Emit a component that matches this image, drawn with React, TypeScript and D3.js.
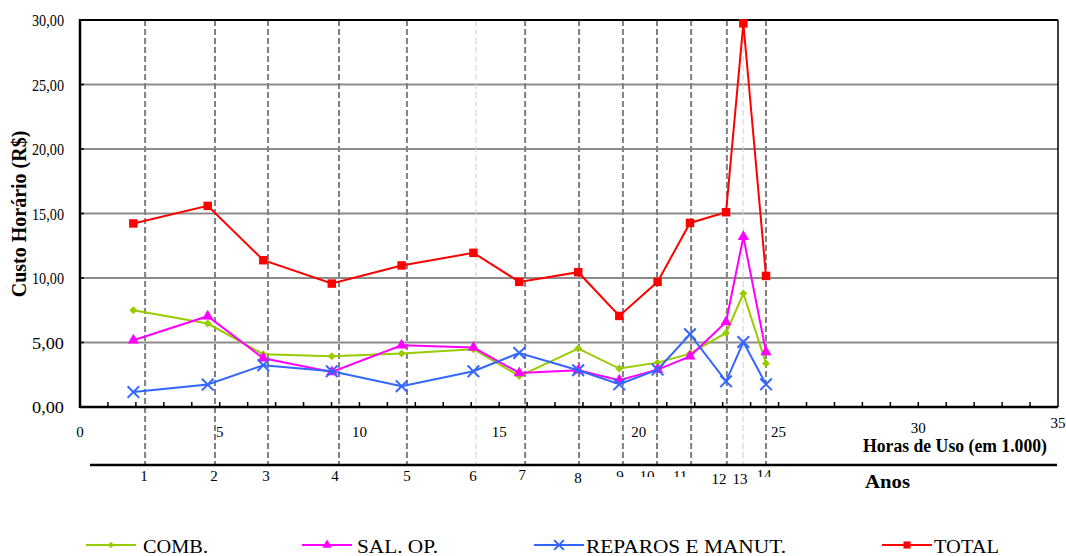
import * as d3 from 'd3';

// thousands of hours for each year's point
const hours = [1.91, 4.57, 6.56, 9.01, 11.51, 14.08, 15.72, 17.83, 19.3, 20.67, 21.83, 23.12, 23.74, 24.55];
const comb = [7.5, 6.47, 4.09, 3.93, 4.14, 4.48, 2.4, 4.53, 2.98, 3.44, 4.14, 5.74, 8.8, 3.37];
const salOp = [5.17, 7.04, 3.78, 2.72, 4.79, 4.61, 2.64, 2.85, 2.07, 2.9, 3.93, 6.59, 13.19, 4.27];
const reparos = [1.16, 1.74, 3.24, 2.77, 1.61, 2.77, 4.19, 2.85, 1.76, 2.9, 5.64, 1.99, 5.04, 1.76];
const total = [14.23, 15.59, 11.38, 9.57, 10.97, 11.95, 9.7, 10.45, 7.06, 9.7, 14.27, 15.1, 29.74, 10.16];

// year marks on the hours axis
const yearHours = [2.33, 4.83, 6.73, 9.27, 11.7, 14.17, 15.93, 17.86, 19.43, 20.65, 21.87, 23.15, 23.73, 24.55];
const yearLabels = ['1', '2', '3', '4', '5', '6', '7', '8', '9', '10', '11', '12', '13', '14'];
const yearLight = [false, false, false, false, false, true, false, false, false, false, false, false, true, false];
const yearLabelDx = [-1, -1, -2, -4, 0, -3, -3, -1, -3, -10, -11, -8, -3, -2];
const yearLabelDy = [0, 0, 0, 0, 0, 0, -1, 2, 0, 0, 0, 3, 3, -1];
const yearClipped = [false, false, false, false, false, false, false, false, true, true, true, false, false, true];

const xTicks = [0, 5, 10, 15, 20, 25, 30, 35];
const yTicks = [0, 5, 10, 15, 20, 25, 30];

const W = 1066;
const H = 556;
const left = 80;
const right = 1058;
const top = 20;
const bottom = 407;
const anosY = 465;

const x = d3.scaleLinear().domain([0, 35]).range([left, right]);
const y = d3.scaleLinear().domain([0, 30]).range([bottom, top]);

const fmt = (v: number) => v.toFixed(2).replace('.', ',');

const series = [
  { name: 'COMB.', values: comb, color: '#99CC00', symbol: d3.symbolDiamond2, size: 40, stroke: false, lx: 86, tx: 143, tw: 65 },
  { name: 'SAL. OP.', values: salOp, color: '#FF00FF', symbol: d3.symbolTriangle, size: 55, stroke: false, lx: 302, tx: 357, tw: 81 },
  { name: 'REPAROS E MANUT.', values: reparos, color: '#3366FF', symbol: d3.symbolTimes, size: 90, stroke: true, lx: 534, tx: 586, tw: 200 },
  { name: 'TOTAL', values: total, color: '#FF0000', symbol: d3.symbolSquare, size: 72, stroke: false, lx: 882, tx: 934, tw: 65 },
];

const serif = '"Liberation Serif", "Times New Roman", serif';

export default function App() {
  const line = d3
    .line<number>()
    .x((_, i) => x(hours[i]))
    .y((d) => y(d));

  const minor = d3.range(1, 35);

  return (
    <svg
      width={W}
      height={H}
      style={{ position: 'absolute', left: 0, top: 0, background: '#fff' }}
      fontFamily={serif}
    >
      <defs>
        <clipPath id="yearClip">
          <rect x={0} y={0} width={W} height={477} />
        </clipPath>
      </defs>

      {/* horizontal grid */}
      {yTicks.slice(1, -1).map((t) => (
        <line key={'g' + t} x1={left} x2={right} y1={y(t)} y2={y(t)} stroke="#8c8c8c" strokeWidth={2} />
      ))}

      {/* year dashed lines */}
      {yearHours.map((h, i) => (
        <line
          key={'yl' + i}
          x1={x(h)}
          x2={x(h)}
          y1={top}
          y2={anosY}
          stroke={yearLight[i] ? '#cfcfcf' : '#808080'}
          strokeWidth={yearLight[i] ? 1 : 2}
          strokeDasharray="6,3"
        />
      ))}

      {/* frame */}
      <line x1={left} x2={right} y1={top} y2={top} stroke="#000" strokeWidth={2} />
      <line x1={right} x2={right} y1={top} y2={bottom} stroke="#000" strokeWidth={1.5} />
      <line x1={left} x2={left} y1={top - 1} y2={bottom + 1} stroke="#000" strokeWidth={2.5} />
      <line x1={left} x2={right} y1={bottom} y2={bottom} stroke="#000" strokeWidth={2.5} />

      {/* ticks */}
      {minor.map((t) => (
        <line key={'xt' + t} x1={x(t)} x2={x(t)} y1={bottom} y2={bottom - 5} stroke="#000" strokeWidth={1.5} />
      ))}
      {yTicks.slice(1, -1).map((t) => (
        <line key={'yt' + t} x1={left} x2={left + 4} y1={y(t)} y2={y(t)} stroke="#000" strokeWidth={1.5} />
      ))}

      {/* y tick labels */}
      {yTicks.map((t) => (
        <text key={'yl' + t} x={64} y={y(t) + 6} textAnchor="end" fontSize={16} textLength={32} lengthAdjust="spacingAndGlyphs">
          {fmt(t)}
        </text>
      ))}

      {/* x tick labels */}
      {xTicks.map((t) => (
        <text
          key={'xl' + t}
          x={x(t)}
          y={t === 35 ? 428 : t === 30 ? 433 : 437}
          textAnchor="middle"
          fontSize={15}
        >
          {t}
        </text>
      ))}

      <text
        transform={`translate(26,${214}) rotate(-90)`}
        textAnchor="middle"
        fontSize={20}
        fontWeight="bold"
      >
        Custo Horário (R$)
      </text>

      <text x={863} y={452} fontSize={18} fontWeight="bold" textLength={184} lengthAdjust="spacingAndGlyphs">
        Horas de Uso (em 1.000)
      </text>

      {/* anos axis */}
      <line x1={90} x2={1057} y1={anosY} y2={anosY} stroke="#000" strokeWidth={2.5} />
      {yearLabels.map((lab, i) => (
        <text
          key={'ya' + i}
          x={x(yearHours[i]) + yearLabelDx[i]}
          y={481 + yearLabelDy[i]}
          textAnchor="middle"
          fontSize={15}
          clipPath={yearClipped[i] ? 'url(#yearClip)' : undefined}
        >
          {lab}
        </text>
      ))}
      <text x={865} y={488} fontSize={18} fontWeight="bold" textLength={45} lengthAdjust="spacingAndGlyphs">
        Anos
      </text>

      {/* series */}
      {series.map((s) => (
        <g key={s.name}>
          <path d={line(s.values) || ''} fill="none" stroke={s.color} strokeWidth={2} />
          {s.values.map((v, i) => (
            <path
              key={i}
              transform={`translate(${x(hours[i])},${y(v)})`}
              d={d3.symbol(s.symbol, s.size)() || ''}
              fill={s.stroke ? 'none' : s.color}
              stroke={s.color}
              strokeWidth={s.stroke ? 2 : 0}
            />
          ))}
        </g>
      ))}

      {/* legend */}
      {series.map((s) => (
        <g key={'lg' + s.name}>
          <line x1={s.lx} x2={s.lx + 50} y1={545} y2={545} stroke={s.color} strokeWidth={2} />
          <path
            transform={`translate(${s.lx + 25},545)`}
            d={d3.symbol(s.symbol, s.size * 0.7)() || ''}
            fill={s.stroke ? 'none' : s.color}
            stroke={s.color}
            strokeWidth={s.stroke ? 2 : 0}
          />
          <text x={s.tx} y={553} fontSize={19} textLength={s.tw} lengthAdjust="spacingAndGlyphs">
            {s.name}
          </text>
        </g>
      ))}
    </svg>
  );
}
